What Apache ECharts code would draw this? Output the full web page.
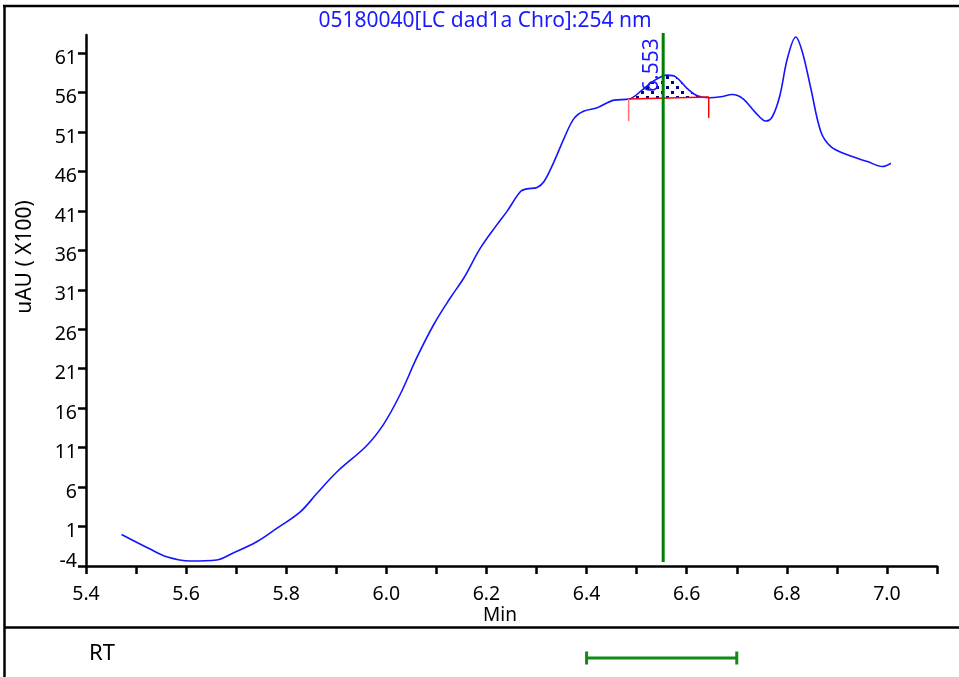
<!DOCTYPE html>
<html>
<head>
<meta charset="utf-8">
<script src="https://cdn.jsdelivr.net/npm/echarts@6/dist/echarts.min.js"></script>
<style>
  html, body { margin: 0; padding: 0; background: #fff; }
  #chart { width: 959px; height: 677px; }
</style>
</head>
<body>
<div id="chart"></div>
<script>
// Chromatogram trace: retention time (min) vs detector signal (uAU x100)
const retentionTimes = [
  5.471, 5.528, 5.561, 5.608, 5.661, 5.694, 5.741, 5.781, 5.828, 5.861,
  5.901, 5.961, 5.995, 6.028, 6.061, 6.095, 6.128, 6.155, 6.188, 6.221,
  6.241, 6.268, 6.281, 6.301, 6.315, 6.335, 6.355, 6.375, 6.395, 6.421,
  6.455, 6.485, 6.511, 6.531, 6.561, 6.578, 6.601, 6.621, 6.645, 6.668,
  6.691, 6.712, 6.737, 6.758, 6.771, 6.786, 6.801, 6.818, 6.831, 6.848,
  6.868, 6.888, 6.921, 6.961, 6.991, 7.008
];
const signal = [
  0.0, -1.85, -2.83, -3.37, -3.24, -2.36, -0.93, 0.76, 2.86, 5.18,
  7.91, 11.28, 14.02, 17.8, 22.43, 26.64, 30.0, 32.53, 36.32, 39.27,
  40.95, 43.47, 43.8, 43.98, 44.74, 47.26, 50.2, 52.73, 53.66, 54.08,
  55.05, 55.18, 56.32, 57.36, 58.21, 58.0, 56.52, 55.6, 55.34, 55.47,
  55.76, 55.25, 53.5, 52.4, 52.94, 55.6, 60.3, 63.05, 61.15, 56.52,
  51.05, 49.16, 48.11, 47.26, 46.63, 47.05
];

// Axis ticks and labels
const xTickValues = [5.4, 5.5, 5.6, 5.7, 5.8, 5.9, 6.0, 6.1, 6.2, 6.3, 6.4, 6.5, 6.6, 6.7, 6.8, 6.9, 7.0, 7.1];
const xLabelValues = [5.4, 5.6, 5.8, 6.0, 6.2, 6.4, 6.6, 6.8, 7.0];
const yTickValues = [-4, 1, 6, 11, 16, 21, 26, 31, 36, 41, 46, 51, 56, 61];

// Integrated peak: apex time, baseline endpoints [time, signal] and drop-line ends
const peakTime = 6.553;
const peakLabel = '6.553';
const baselineStart = [6.484, 55.2];
const baselineEnd = [6.644, 55.45];
const dropStartLow = 52.4;
const dropEndLow = 52.8;

// Retention-time window
const rtWindow = [6.4, 6.7];

const chartTitle = '05180040[LC dad1a Chro]:254 nm';
const xName = 'Min';
const yName = 'uAU ( X100)';
const rtName = 'RT';

const FONT = 'Noto Sans';
const traceData = retentionTimes.map((t, i) => [t, signal[i]]);

// Dotted fill tile for the integrated area
const dotTile = document.createElement('canvas');
dotTile.width = 10; dotTile.height = 10;
(function () {
  const c = dotTile.getContext('2d');
  c.fillStyle = '#000080';
  c.fillRect(1, 1, 3, 3);
  c.fillRect(6, 6, 3, 3);
})();

const chart = echarts.init(document.getElementById('chart'), null, { renderer: 'canvas' });

const option = {
  animation: false,
  backgroundColor: '#fff',
  grid: [
    { left: 86, right: 22, top: 35, bottom: 111, containLabel: false },
    { left: 86, right: 22, top: 640, height: 36, containLabel: false }
  ],
  xAxis: [
    {
      type: 'value', gridIndex: 0, min: 5.4, max: 7.1,
      axisLine: { show: true, onZero: false, lineStyle: { color: '#000', width: 2.5 } },
      axisTick: { show: true, customValues: xTickValues, length: 8, lineStyle: { color: '#000', width: 2.5 } },
      axisLabel: {
        customValues: xLabelValues, color: '#000', fontFamily: FONT, fontSize: 19.5, margin: 18,
        formatter: v => v.toFixed(1)
      },
      splitLine: { show: false }
    },
    { type: 'value', gridIndex: 1, min: 5.4, max: 7.1, show: false }
  ],
  yAxis: [
    {
      type: 'value', gridIndex: 0, min: -4, max: 63.3,
      axisLine: { show: true, onZero: false, lineStyle: { color: '#000', width: 2.5 } },
      axisTick: { show: true, customValues: yTickValues, length: 8, lineStyle: { color: '#000', width: 2.5 } },
      axisLabel: {
        customValues: yTickValues, color: '#000', fontFamily: FONT, fontSize: 19.5, margin: 9,
        padding: [10, 0, 0, 0],
        formatter: v => (v === -4 ? '{low|-4}' : String(v)),
        rich: { low: { fontFamily: FONT, fontSize: 19.5, color: '#000', padding: [0, 0, 20, 0] } }
      },
      splitLine: { show: false }
    },
    { type: 'value', gridIndex: 1, min: 0, max: 1, show: false }
  ],
  graphic: [
    // outer frame and panel divider
    { type: 'line', shape: { x1: 3, y1: 6, x2: 959, y2: 6 }, style: { stroke: '#000', lineWidth: 2.5 } },
    { type: 'line', shape: { x1: 4.5, y1: 5, x2: 4.5, y2: 677 }, style: { stroke: '#000', lineWidth: 2.5 } },
    { type: 'line', shape: { x1: 4, y1: 627.5, x2: 959, y2: 627.5 }, style: { stroke: '#000', lineWidth: 2.5 } },
    {
      type: 'text', x: 485, y: 21,
      style: { text: chartTitle, fill: '#1a1aff', fontFamily: FONT, fontSize: 21, align: 'center', verticalAlign: 'middle' }
    },
    {
      type: 'text', x: 25, y: 257, rotation: Math.PI / 2,
      style: { text: yName, fill: '#000', fontFamily: FONT, fontSize: 21, align: 'center', verticalAlign: 'middle' }
    },
    {
      type: 'text', x: 500, y: 616,
      style: { text: xName, fill: '#000', fontFamily: FONT, fontSize: 19, align: 'center', verticalAlign: 'middle' }
    },
    {
      type: 'text', x: 102, y: 654,
      style: { text: rtName, fill: '#000', fontFamily: FONT, fontSize: 22, align: 'center', verticalAlign: 'middle' }
    }
  ],
  series: [
    // dotted integrated area between trace and baseline
    {
      type: 'custom', xAxisIndex: 0, yAxisIndex: 0, clip: false, z: 1,
      data: [0],
      renderItem: function (params, api) {
        const pts = [api.coord(baselineStart)];
        traceData.forEach(p => {
          if (p[0] > baselineStart[0] && p[0] < baselineEnd[0]) pts.push(api.coord(p));
        });
        pts.push(api.coord(baselineEnd));
        return {
          type: 'polygon',
          shape: { points: pts, smooth: 0.3 },
          style: { fill: { image: dotTile, repeat: 'repeat' }, stroke: null }
        };
      }
    },
    // detector trace
    {
      type: 'line', xAxisIndex: 0, yAxisIndex: 0, data: traceData,
      showSymbol: false, smooth: 0.35, z: 3,
      lineStyle: { color: '#1414ff', width: 1.6 }
    },
    // peak baseline with drop lines
    {
      type: 'custom', xAxisIndex: 0, yAxisIndex: 0, clip: false, z: 4,
      data: [0],
      renderItem: function (params, api) {
        const a = api.coord(baselineStart), b = api.coord(baselineEnd);
        const aLow = api.coord([baselineStart[0], dropStartLow]);
        const bLow = api.coord([baselineEnd[0], dropEndLow]);
        return {
          type: 'group',
          children: [
            { type: 'line', shape: { x1: a[0], y1: a[1], x2: b[0], y2: b[1] }, style: { stroke: '#ff0000', lineWidth: 1.5 } },
            { type: 'line', shape: { x1: a[0], y1: a[1], x2: aLow[0], y2: aLow[1] }, style: { stroke: '#ff7070', lineWidth: 1.5 } },
            { type: 'line', shape: { x1: b[0], y1: b[1], x2: bLow[0], y2: bLow[1] }, style: { stroke: '#ff0000', lineWidth: 1.5 } }
          ]
        };
      }
    },
    // retention-time marker and peak label
    {
      type: 'custom', xAxisIndex: 0, yAxisIndex: 0, clip: false, z: 5,
      data: [0],
      renderItem: function (params, api) {
        const top = api.coord([peakTime, 63.55]);
        const bottom = api.coord([peakTime, -3.5]);
        const lab = api.coord([peakTime, baselineStart[1]]);
        return {
          type: 'group',
          children: [
            { type: 'line', shape: { x1: top[0], y1: top[1], x2: bottom[0], y2: bottom[1] }, style: { stroke: '#008000', lineWidth: 3 } },
            {
              type: 'text', x: lab[0] - 11, y: lab[1] - 7, rotation: Math.PI / 2,
              style: { text: peakLabel, fill: '#1a1aff', fontFamily: FONT, fontSize: 21, align: 'left', verticalAlign: 'middle' }
            }
          ]
        };
      }
    },
    // RT window bracket
    {
      type: 'custom', xAxisIndex: 1, yAxisIndex: 1, clip: false,
      data: [0],
      renderItem: function (params, api) {
        const a = api.coord([rtWindow[0], 0.5]), b = api.coord([rtWindow[1], 0.5]);
        const st = { stroke: '#138a13', lineWidth: 3 };
        return {
          type: 'group',
          children: [
            { type: 'line', shape: { x1: a[0], y1: a[1], x2: b[0], y2: b[1] }, style: st },
            { type: 'line', shape: { x1: a[0], y1: a[1] - 6.5, x2: a[0], y2: a[1] + 6.5 }, style: st },
            { type: 'line', shape: { x1: b[0], y1: b[1] - 6.5, x2: b[0], y2: b[1] + 6.5 }, style: st }
          ]
        };
      }
    }
  ]
};

chart.setOption(option);
</script>
</body>
</html>
